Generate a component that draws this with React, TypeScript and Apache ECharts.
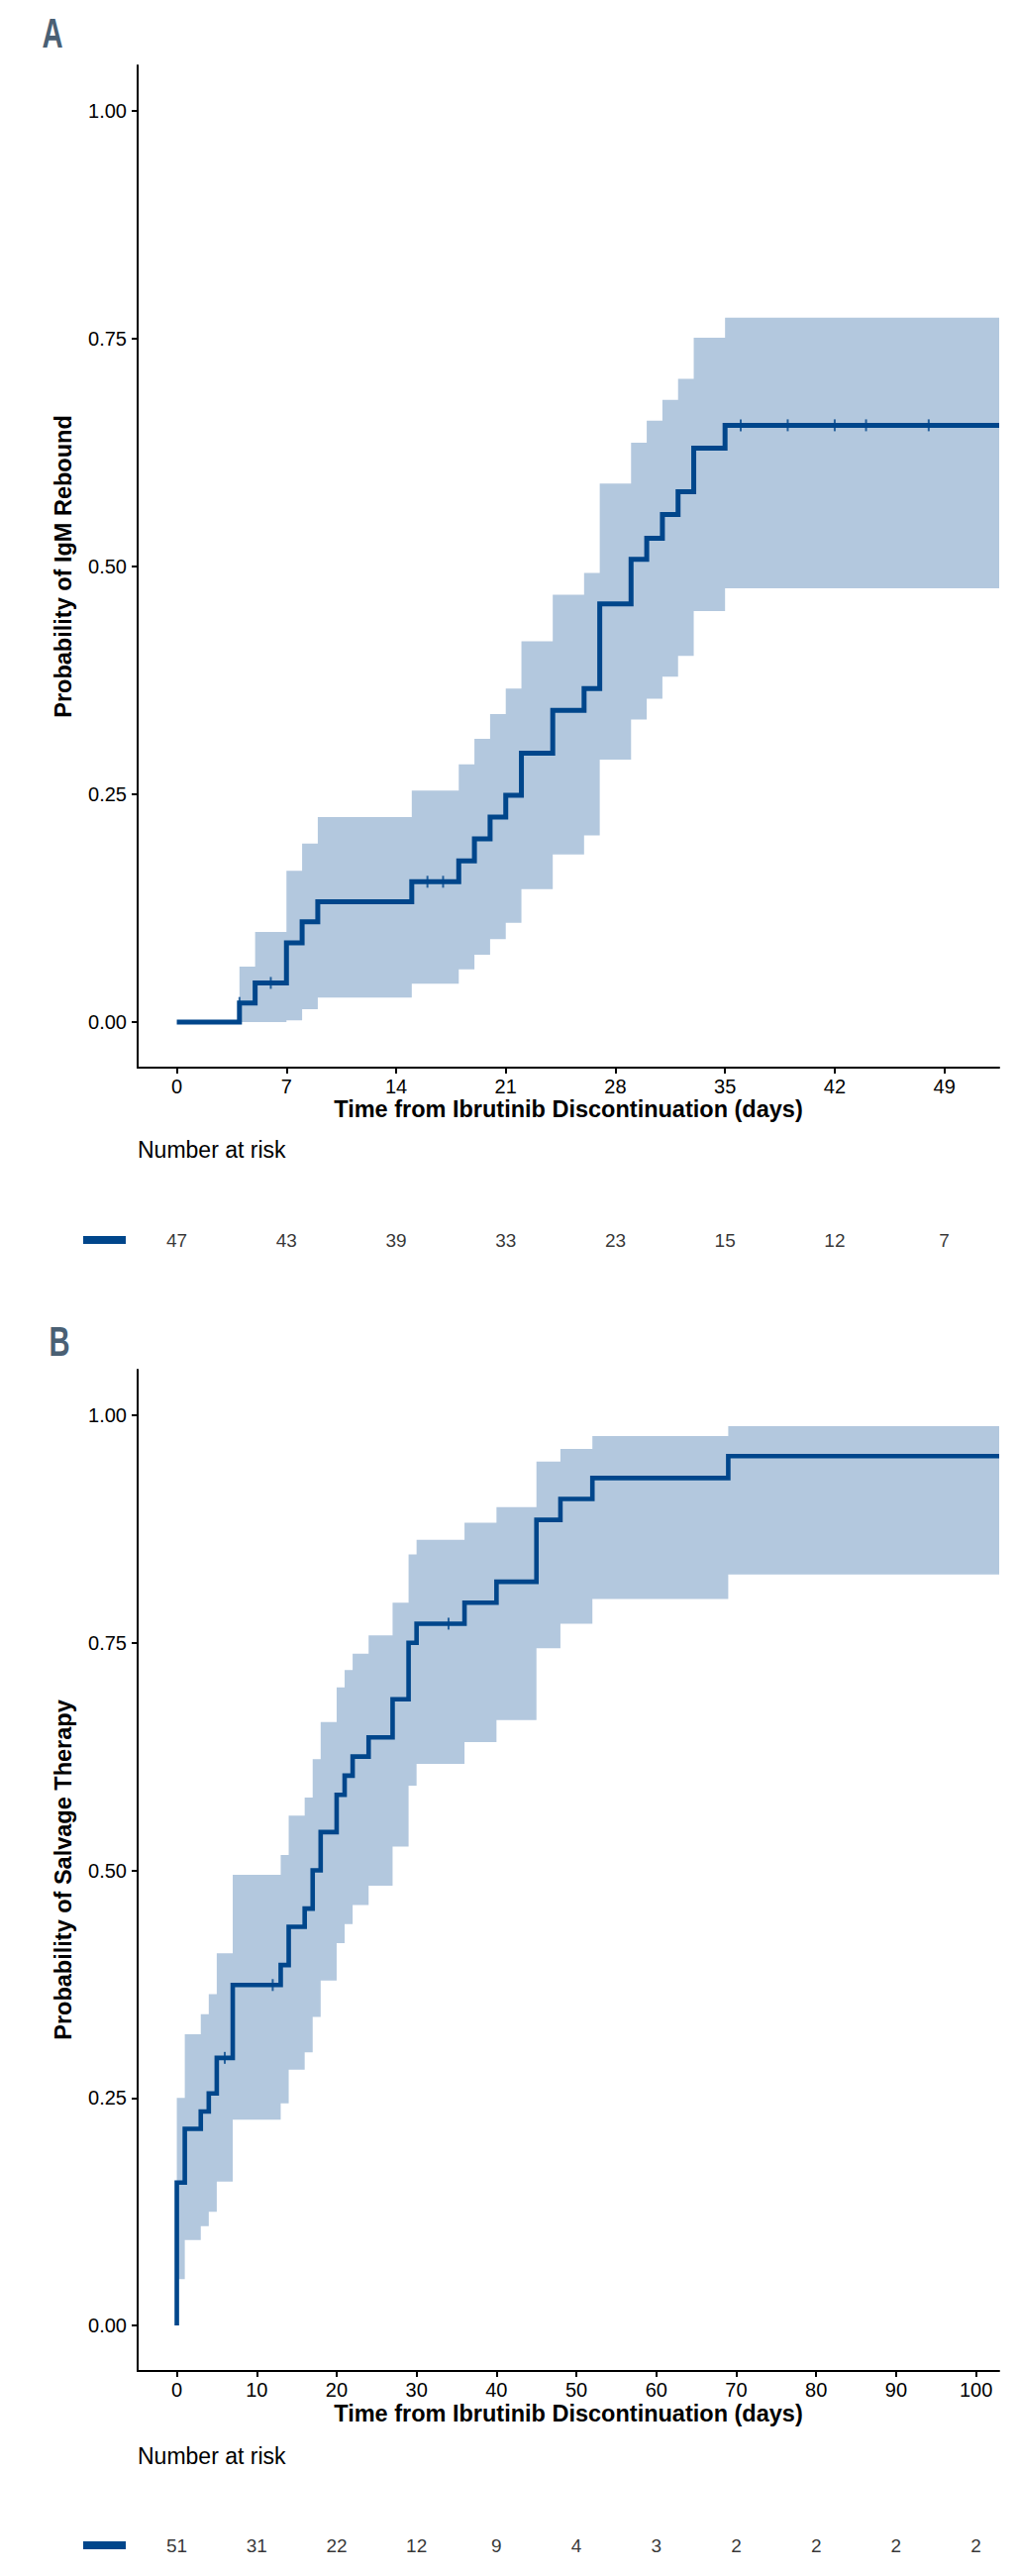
import React, { useEffect, useRef } from "react";
import * as echarts from "echarts";

const BLUE = "#00468B";
const BAND = "#B3C8DE";
const LABEL_COLOR = "#4a6074";
const FONT = "'Liberation Sans', Arial, Helvetica, sans-serif";

// ---------- Panel A: IgM rebound ----------
const aXMin = -2.5;
const aXMax = 52.5;
const aTicks = [0, 7, 14, 21, 28, 35, 42, 49];
const aRisk = [47, 43, 39, 33, 23, 15, 12, 7];
const aCurveT = [0, 4, 5, 7, 8, 9, 15, 18, 19, 20, 21, 22, 24, 26, 27, 29, 30, 31, 32, 33, 35];
const aCurveV = [0, 0.021, 0.043, 0.087, 0.11, 0.132, 0.154, 0.177, 0.201, 0.225, 0.249, 0.295, 0.342, 0.366, 0.459, 0.508, 0.531, 0.557, 0.582, 0.63, 0.655];
const aBandT = [4, 5, 7, 8, 9, 15, 18, 19, 20, 21, 22, 24, 26, 27, 29, 30, 31, 32, 33, 35];
const aUpper = [0.061, 0.099, 0.166, 0.196, 0.225, 0.254, 0.283, 0.311, 0.338, 0.366, 0.418, 0.469, 0.493, 0.591, 0.636, 0.66, 0.683, 0.706, 0.751, 0.773];
const aLower = [0, 0, 0.002, 0.014, 0.027, 0.042, 0.058, 0.074, 0.091, 0.109, 0.146, 0.184, 0.205, 0.288, 0.332, 0.355, 0.379, 0.402, 0.451, 0.476];
const aCensorT = [4, 6, 16, 17, 36, 39, 42, 44, 48];
const aCensorV = [0.021, 0.043, 0.154, 0.154, 0.655, 0.655, 0.655, 0.655, 0.655];

// ---------- Panel B: salvage therapy ----------
const bXMin = -4.9;
const bXMax = 102.9;
const bTicks = [0, 10, 20, 30, 40, 50, 60, 70, 80, 90, 100];
const bRisk = [51, 31, 22, 12, 9, 4, 3, 2, 2, 2, 2];
const bCurveT = [0, 0, 1, 3, 4, 5, 7, 13, 14, 16, 17, 18, 20, 21, 22, 24, 27, 29, 30, 36, 40, 45, 48, 52, 69];
const bCurveV = [0, 0.157, 0.216, 0.235, 0.255, 0.294, 0.374, 0.396, 0.438, 0.458, 0.5, 0.542, 0.583, 0.604, 0.625, 0.646, 0.688, 0.75, 0.771, 0.794, 0.817, 0.885, 0.908, 0.931, 0.955];
const bBandT = [0, 1, 3, 4, 5, 7, 13, 14, 16, 17, 18, 20, 21, 22, 24, 27, 29, 30, 36, 40, 45, 48, 52, 69];
const bUpper = [0.25, 0.32, 0.342, 0.364, 0.409, 0.495, 0.517, 0.56, 0.58, 0.622, 0.663, 0.701, 0.72, 0.738, 0.758, 0.794, 0.847, 0.863, 0.882, 0.899, 0.949, 0.963, 0.977, 0.988];
const bLower = [0.051, 0.094, 0.109, 0.125, 0.158, 0.226, 0.244, 0.281, 0.3, 0.339, 0.379, 0.42, 0.441, 0.462, 0.483, 0.526, 0.593, 0.617, 0.641, 0.665, 0.744, 0.771, 0.798, 0.825];
const bCensorT = [6, 12, 34];
const bCensorV = [0.294, 0.374, 0.771];

const yTicks = [0, 0.25, 0.5, 0.75, 1];

function bandRenderer(ts: number[], lo: number[], hi: number[], xEnd: number) {
  return (params: any, api: any) => {
    const pts: number[][] = [];
    for (let i = 0; i < ts.length; i++) {
      const t1 = i + 1 < ts.length ? ts[i + 1] : xEnd;
      pts.push(api.coord([ts[i], hi[i]]));
      pts.push(api.coord([t1, hi[i]]));
    }
    for (let i = ts.length - 1; i >= 0; i--) {
      const t1 = i + 1 < ts.length ? ts[i + 1] : xEnd;
      pts.push(api.coord([t1, lo[i]]));
      pts.push(api.coord([ts[i], lo[i]]));
    }
    return { type: "polygon", shape: { points: pts }, style: { fill: BAND } };
  };
}

function mainX(gridIndex: number, min: number, max: number, ticks: number[]) {
  return {
    type: "value",
    gridIndex,
    min,
    max,
    splitLine: { show: false },
    axisLine: { show: true, onZero: false, lineStyle: { color: "#000", width: 2 } },
    axisTick: { show: true, customValues: ticks, length: 6, lineStyle: { color: "#000", width: 2 } },
    axisLabel: { show: true, customValues: ticks, margin: 9, fontSize: 20, fontFamily: FONT, color: "#000" },
  };
}

function mainY(gridIndex: number) {
  return {
    type: "value",
    gridIndex,
    min: -0.05,
    max: 1.05,
    splitLine: { show: false },
    axisLine: { show: true, onZero: false, lineStyle: { color: "#000", width: 2 } },
    axisTick: { show: true, customValues: yTicks, length: 6, lineStyle: { color: "#000", width: 2 } },
    axisLabel: {
      show: true,
      customValues: yTicks,
      margin: 11,
      fontSize: 20,
      fontFamily: FONT,
      color: "#000",
      formatter: (v: number) => v.toFixed(2),
    },
  };
}

function hiddenX(gridIndex: number, min: number, max: number) {
  return { type: "value", gridIndex, min, max, show: false, splitLine: { show: false } };
}
function hiddenY(gridIndex: number) {
  return { type: "value", gridIndex, min: 0, max: 1, show: false, splitLine: { show: false } };
}

function panelSeries(
  idx: number,
  riskIdx: number,
  xEnd: number,
  curveT: number[],
  curveV: number[],
  bandT: number[],
  lo: number[],
  hi: number[],
  cT: number[],
  cV: number[],
  ticks: number[],
  risk: number[],
  lw: number
) {
  const curve = curveT.map((t, i) => [t, curveV[i]]);
  curve.push([xEnd, curveV[curveV.length - 1]]);
  return [
    {
      type: "custom",
      xAxisIndex: idx,
      yAxisIndex: idx,
      clip: true,
      renderItem: bandRenderer(bandT, lo, hi, xEnd),
      data: [[bandT[0], lo[0]]],
      z: 1,
      silent: true,
    },
    {
      type: "line",
      xAxisIndex: idx,
      yAxisIndex: idx,
      step: "end",
      symbol: "none",
      data: curve,
      lineStyle: { color: BLUE, width: lw, cap: "butt", join: "miter" },
      z: 3,
      silent: true,
    },
    {
      type: "scatter",
      xAxisIndex: idx,
      yAxisIndex: idx,
      symbol: "rect",
      symbolSize: [2, 12],
      itemStyle: { color: BLUE },
      data: cT.map((t, i) => [t, cV[i]]),
      z: 4,
      silent: true,
    },
    {
      type: "scatter",
      xAxisIndex: riskIdx,
      yAxisIndex: riskIdx,
      symbolSize: 1,
      itemStyle: { color: "rgba(0,0,0,0)" },
      data: ticks.map((t, i) => [t, 0.5, risk[i]]),
      label: {
        show: true,
        position: "inside",
        formatter: (p: any) => String(p.value[2]),
        fontSize: 19,
        fontFamily: FONT,
        color: "#000",
      },
      silent: true,
    },
  ];
}

function txt(x: number, y: number, text: string, font: string, align: string, extra: any = {}) {
  const { styleExtra, ...rest } = extra;
  return {
    type: "text",
    x,
    y,
    ...rest,
    style: {
      text,
      font,
      fill: "#000",
      align,
      textAlign: align,
      verticalAlign: "middle",
      textVerticalAlign: "middle",
      ...(styleExtra || {}),
    },
  };
}

export default function App() {
  const ref = useRef<HTMLDivElement>(null);

  useEffect(() => {
    if (!ref.current) return;
    const chart = echarts.init(ref.current, undefined, { renderer: "svg" });
    const gl = 139;
    const gw = 870;
    const panelFont = `bold 43px ${FONT}`;
    const option: any = {
      animation: false,
      backgroundColor: "#fff",
      grid: [
        { left: gl, top: 66, width: gw, height: 1012 },
        { left: gl, top: 1383, width: gw, height: 1011 },
        { left: gl, top: 1232, width: gw, height: 40 },
        { left: gl, top: 2550, width: gw, height: 40 },
      ],
      xAxis: [
        mainX(0, aXMin, aXMax, aTicks),
        mainX(1, bXMin, bXMax, bTicks),
        hiddenX(2, aXMin, aXMax),
        hiddenX(3, bXMin, bXMax),
      ],
      yAxis: [mainY(0), mainY(1), hiddenY(2), hiddenY(3)],
      series: [
        ...panelSeries(0, 2, aXMax, aCurveT, aCurveV, aBandT, aLower, aUpper, aCensorT, aCensorV, aTicks, aRisk, 5),
        ...panelSeries(1, 3, bXMax, bCurveT, bCurveV, bBandT, bLower, bUpper, bCensorT, bCensorV, bTicks, bRisk, 4.6),
      ],
      graphic: [
        txt(53, 33, "A", panelFont, "center", { scaleX: 0.68, styleExtra: { fill: LABEL_COLOR } }),
        txt(60, 1354, "B", panelFont, "center", { scaleX: 0.68, styleExtra: { fill: LABEL_COLOR } }),
        txt(64, 572, "Probability of IgM Rebound", `bold 23.5px ${FONT}`, "center", { rotation: Math.PI / 2 }),
        txt(64, 1888, "Probability of Salvage Therapy", `bold 23.5px ${FONT}`, "center", { rotation: Math.PI / 2 }),
        txt(574, 1120, "Time from Ibrutinib Discontinuation (days)", `bold 23.5px ${FONT}`, "center"),
        txt(574, 2437, "Time from Ibrutinib Discontinuation (days)", `bold 23.5px ${FONT}`, "center"),
        txt(139, 1161, "Number at risk", `23px ${FONT}`, "left"),
        txt(139, 2480, "Number at risk", `23px ${FONT}`, "left"),
        { type: "rect", shape: { x: 84, y: 1248, width: 43, height: 8 }, style: { fill: BLUE } },
        { type: "rect", shape: { x: 84, y: 2566, width: 43, height: 8 }, style: { fill: BLUE } },
      ],
    };
    chart.setOption(option);
    return () => chart.dispose();
  }, []);

  return (
    <div
      ref={ref}
      style={{ position: "absolute", left: 0, top: 0, width: 1028, height: 2601, background: "#fff" }}
    />
  );
}
